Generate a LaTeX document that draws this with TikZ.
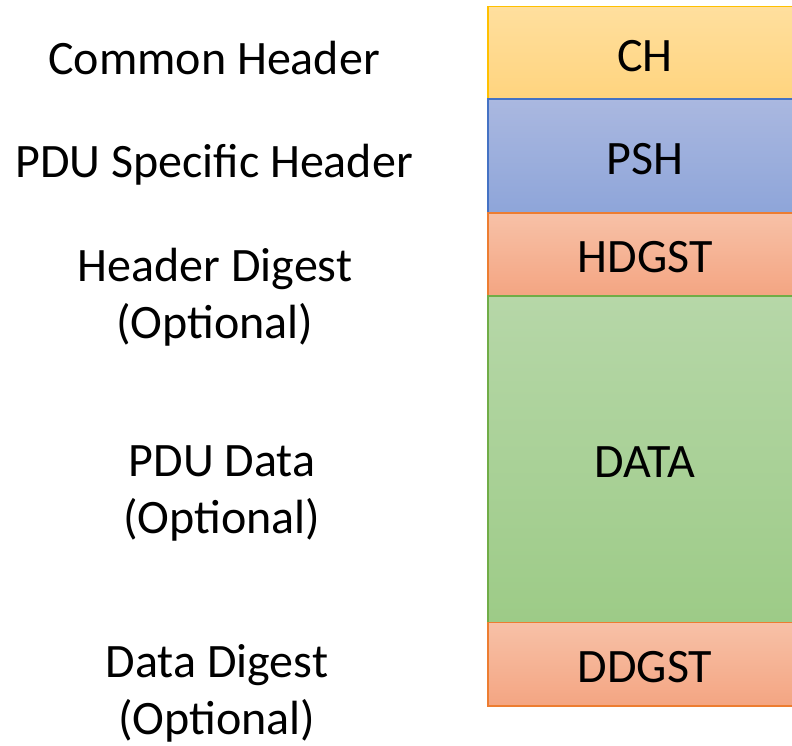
\documentclass[tikz,border=0pt]{standalone}
\usepackage{fontspec}
\setmainfont{Carlito}
\begin{document}
\begin{tikzpicture}[x=1pt,y=-1pt,
  lbl/.style={align=center, font=\fontsize{48}{57}\selectfont},
  ftext/.style={font=\fontsize{48}{57}\selectfont, yshift=-3pt},
  field/.style={draw, line width=1.3pt, minimum width=314pt, inner sep=0pt},
  gold/.style={field, draw={rgb,255:red,255;green,192;blue,0},
    top color={rgb,255:red,255;green,223;blue,158}, bottom color={rgb,255:red,255;green,212;blue,126}},
  blue/.style={field, draw={rgb,255:red,68;green,114;blue,196},
    top color={rgb,255:red,170;green,184;blue,224}, bottom color={rgb,255:red,142;green,165;blue,217}},
  orange/.style={field, draw={rgb,255:red,237;green,125;blue,49},
    top color={rgb,255:red,247;green,193;blue,167}, bottom color={rgb,255:red,244;green,165;blue,130}},
  green/.style={field, draw={rgb,255:red,112;green,173;blue,71},
    top color={rgb,255:red,182;green,215;blue,168}, bottom color={rgb,255:red,157;green,203;blue,135}}
]
\useasboundingbox (0,0) rectangle (792,746);
\begin{scope}
\clip (0,0) rectangle (792,746);
% packet fields, stacked top to bottom
\node[gold,   minimum height=92.5pt] (ch)   at (645,52.75)  {};
\node[blue,   minimum height=114pt]  (psh)  at (645,156)    {};
\node[orange, minimum height=83pt]   (hd)   at (645,254.5)  {};
\node[green,  minimum height=326.5pt](data) at (645,459.25) {};
\node[orange, minimum height=83.5pt] (dd)   at (645,664.25) {};
\end{scope}
% field names
\node[ftext] (tch)   at (ch.center)   {CH};
\node[ftext] (tpsh)  at (psh.center)  {PSH};
\node[ftext] (thd)   at (hd.center)   {HDGST};
\node[ftext] (tdata) at (data.center) {DATA};
\node[ftext] (tdd)   at (dd.center)   {DDGST};
% field descriptions
\node[lbl] (lch)   at (214,58)  {Common Header};
\node[lbl] (lpsh)  at (214,165) {PDU Specific Header};
\node[lbl] (lhd)   at (215,297) {Header Digest\\(Optional)};
\node[lbl] (ldata) at (222,493) {PDU Data\\(Optional)};
\node[lbl] (ldd)   at (217,693) {Data Digest\\(Optional)};
\end{tikzpicture}
\end{document}
